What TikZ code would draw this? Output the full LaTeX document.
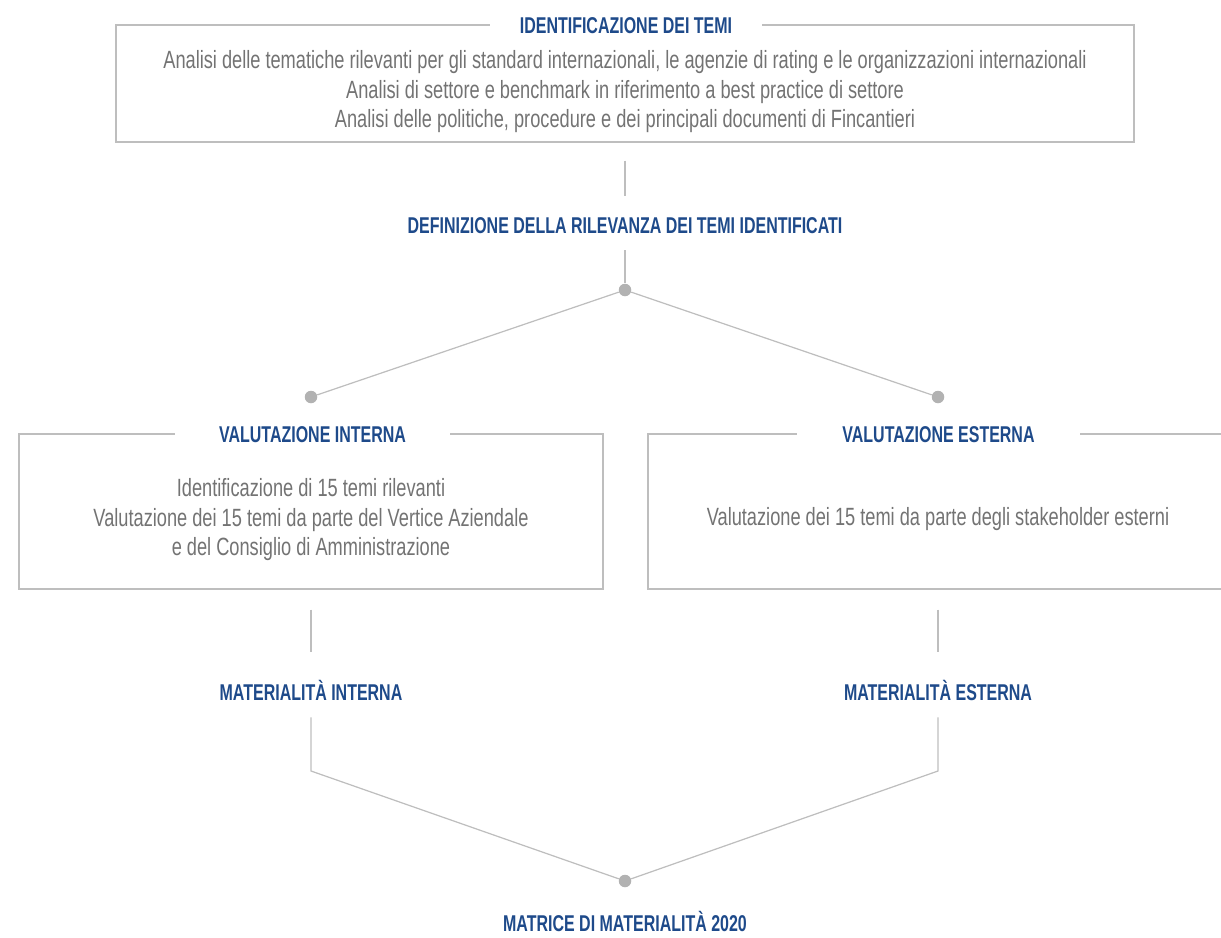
\documentclass[tikz,border=0pt]{standalone}
\usepackage{fontspec}
\setmainfont{Liberation Sans}[FakeStretch=0.7]
\newfontfamily\bodyfont{Liberation Sans}[FakeStretch=0.73]
\usetikzlibrary{positioning}

\definecolor{titleblue}{RGB}{30,74,138}
\definecolor{bodygray}{RGB}{115,115,115}
\definecolor{linegray}{RGB}{190,190,190}
\definecolor{dotgray}{RGB}{178,178,178}

\tikzset{
    panel/.style={draw=linegray, line width=0.7pt, inner sep=0},
    head/.style={text=titleblue, font=\fontsize{13}{15}\selectfont\bfseries, inner sep=0, text height=0.33cm, text depth=0pt},
    boxhead/.style={head, fill=white, minimum height=0.6cm},
    body/.style={text=bodygray, font=\bodyfont\fontsize{14.2}{16.8}\selectfont, align=center, inner sep=0},
    link/.style={draw=linegray, line width=0.7pt},
    dot/.style={circle, fill=dotgray, minimum size=0.25cm, inner sep=0}
}

\begin{document}
\begin{tikzpicture}[x=0.02cm, y=-0.02cm]
    \useasboundingbox (0,0) rectangle (1221,937);
    \clip (0,0) rectangle (1221,937);

    \node [panel, minimum width=20.36cm, minimum height=2.34cm] (idbox) at (625,83.5) {};
    \node [boxhead, minimum width=5.44cm] (idhead) at (626,25) {IDENTIFICAZIONE DEI TEMI};
    \node [body] (idtext) at (625,92) {Analisi delle tematiche rilevanti per gli standard internazionali, le agenzie di rating e le organizzazioni internazionali\\Analisi di settore e benchmark in riferimento a best practice di settore\\Analisi delle politiche, procedure e dei principali documenti di Fincantieri};

    \node [head, minimum height=1cm] (defhead) at (625,225) {DEFINIZIONE DELLA RILEVANZA DEI TEMI IDENTIFICATI};
    \node [dot] (split) at (625,290) {};
    \node [dot] (intdot) at (311,397) {};
    \node [dot] (estdot) at (938,397) {};

    \node [panel, minimum width=11.68cm, minimum height=3.1cm] (intbox) at (311,511.5) {};
    \node [panel, minimum width=11.6cm, minimum height=3.1cm] (estbox) at (938,511.5) {};
    \node [boxhead, minimum width=5.5cm] (inthead) at (312.5,434) {VALUTAZIONE INTERNA};
    \node [boxhead, minimum width=5.66cm] (esthead) at (938.5,434) {VALUTAZIONE ESTERNA};
    \node [body] (inttext) at (311,520) {Identificazione di 15 temi rilevanti\\Valutazione dei 15 temi da parte del Vertice Aziendale\\e del Consiglio di Amministrazione};
    \node [body] (esttext) at (938,519) {Valutazione dei 15 temi da parte degli stakeholder esterni};

    \node [head, minimum height=1cm] (matint) at (311,692) {MATERIALITÀ INTERNA};
    \node [head, minimum height=1cm] (matest) at (938,692) {MATERIALITÀ ESTERNA};
    \coordinate (intjoin) at (311,771);
    \coordinate (estjoin) at (938,771);
    \node [dot] (final) at (625,881) {};
    \node [head] (result) at (625,923) {MATRICE DI MATERIALITÀ 2020};

    \path[link, shorten <=0.36cm, shorten >=0.08cm] (idbox.south) edge (defhead.north);
    \path[link] (defhead.south) edge (split);
    \path[link] (split) edge (intdot);
    \path[link] (split) edge (estdot);
    \path[link, shorten <=0.4cm, shorten >=0.3cm] (intbox.south) edge (matint.north);
    \path[link, shorten <=0.4cm, shorten >=0.3cm] (estbox.south) edge (matest.north);
    \draw[link] (matint.south) -- (intjoin) -- (final);
    \draw[link] (matest.south) -- (estjoin) -- (final);
\end{tikzpicture}
\end{document}
